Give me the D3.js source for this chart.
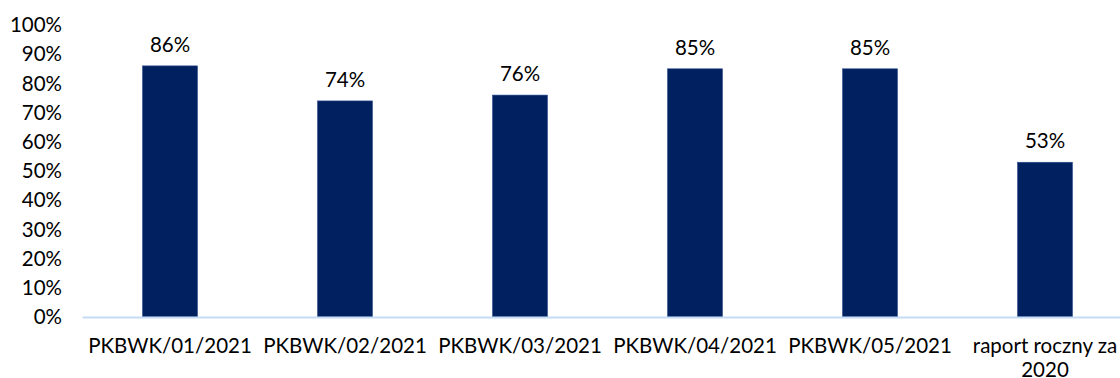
<!DOCTYPE html>
<html><head><meta charset="utf-8">
<script src="https://cdn.jsdelivr.net/npm/d3@7"></script>
<style>body{margin:0;background:#fff;overflow:hidden}svg{display:block;font-family:Lato,sans-serif}</style>
</head><body>
<svg id="c" width="1120" height="378"></svg>
<script>
const categories = ["PKBWK/01/2021","PKBWK/02/2021","PKBWK/03/2021","PKBWK/04/2021","PKBWK/05/2021","raport roczny za|2020"];
const values = [0.86,0.74,0.76,0.85,0.85,0.53];
const yTicks = [0,0.1,0.2,0.3,0.4,0.5,0.6,0.7,0.8,0.9,1.0];

const svg = d3.select("#c");
const x = d3.scaleBand().domain(categories).range([82.5,1132.5]).paddingInner(0.686).paddingOuter(0.343);
const y = d3.scaleLinear().domain([0,1]).range([317,25]);
const fmt = d3.format(".0%");
const fs = 20.5;

// y axis labels
svg.append("g").selectAll("text").data(yTicks).join("text")
  .attr("x",62).attr("y",d=>y(d)).attr("dy","0.35em").attr("text-anchor","end")
  .attr("font-size",fs).attr("fill","#000").text(d=>fmt(d));

// bars
svg.append("g").selectAll("rect").data(values).join("rect")
  .attr("x",(d,i)=>x(categories[i])).attr("width",x.bandwidth())
  .attr("y",d=>y(d)).attr("height",d=>y(0)-y(d))
  .attr("fill","#002060").attr("stroke","#2f4f8f").attr("stroke-width",0.6);

// axis line
svg.append("line").attr("x1",82.5).attr("x2",1120).attr("y1",y(0)+0.5).attr("y2",y(0)+0.5)
  .attr("stroke","#c6dbf5").attr("stroke-width",2);

// value labels
svg.append("g").selectAll("text").data(values).join("text")
  .attr("x",(d,i)=>x(categories[i])+x.bandwidth()/2).attr("y",d=>y(d)-14)
  .attr("text-anchor","middle").attr("font-size",fs).attr("fill","#000").text(d=>fmt(d));

// category labels
const cl = svg.append("g").selectAll("text").data(categories).join("text")
  .attr("x",d=>x(d)+x.bandwidth()/2).attr("y",353)
  .attr("text-anchor","middle").attr("font-size",fs).attr("fill","#000");
cl.each(function(d){
  const t=d3.select(this); const x0=+t.attr("x");
  d.split("|").forEach((s,i)=>t.append("tspan").attr("x",x0).attr("dy",i?24:0).text(s));
});
</script>
</body></html>
